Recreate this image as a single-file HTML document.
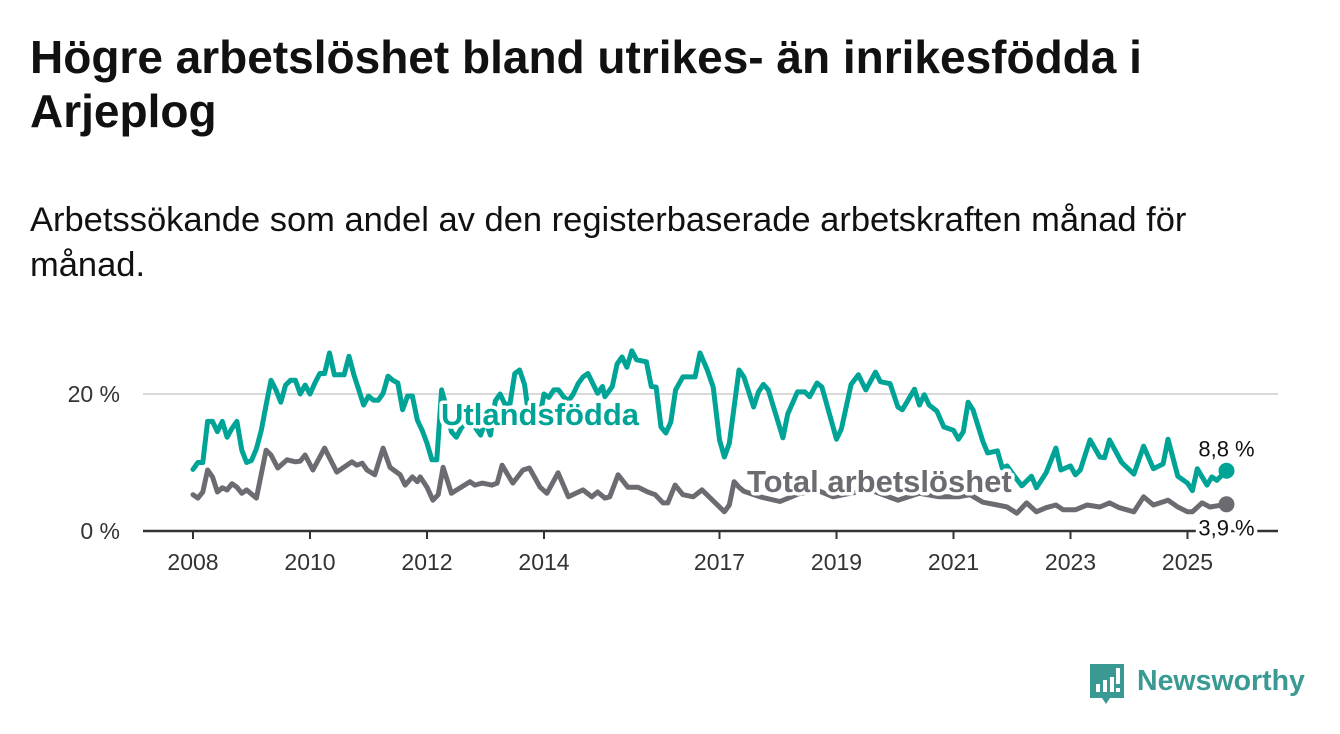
<!DOCTYPE html>
<html><head><meta charset="utf-8">
<style>
html,body{margin:0;padding:0;background:#fff;}
body{width:1340px;height:734px;overflow:hidden;position:relative;font-family:"Liberation Sans",sans-serif;color:#111;}
#title{position:absolute;left:30px;top:30px;font-size:46px;font-weight:bold;line-height:54px;margin:0;width:1220px;}
#subtitle{position:absolute;left:30px;top:198px;font-size:34.5px;line-height:45px;width:1240px;margin:0;}
svg{position:absolute;left:0;top:0;}
</style></head>
<body>
<h1 id="title">Högre arbetslöshet bland utrikes- än inrikesfödda i Arjeplog</h1>
<p id="subtitle">Arbetssökande som andel av den registerbaserade arbetskraften månad för månad.</p>
<svg id="chart" width="1340" height="734"></svg>
<script>
// Months since Jan 2008; values in percent
const tealMonthly = [9,10,10,16,16,14.5,16,13.7,15,16,11.8,10,
10.3,12,14.7,18.4,22,20.6,18.8,21.3,22,22,20,21.3,
20,21.6,23,23,26,22.8,22.8,22.8,25.5,22.8,20.6,18.4,
19.7,19.1,19.1,20.1,22.6,22,21.6,17.7,19.7,19.7,16.2,14.7,
12.8,10.4,10.4,20.6,18,14.5,13.7,15,16,18,15,14,
16,14,19,20,18.5,18.5,23,23.5,21.4,16.2,16.5,16.2,
20,19.5,20.6,20.6,19.6,19,20,21.5,22.5];
const tealLaterMonths = [81,83,84,84.5,86,87,88,89,90,91,93,94,95,96,97,98,99,100.5,103,104,105.5,106.7,108,109,110,112,113,115,116,117,118,121,122,124,125.5,126.5,128,129,132,133,135,136.5,138,140,141,143,144.6,145.5,148,149,150,151,152.6,154,156,157,158,159,160,162,163,165,166,167,168.5,170,172,173,175,177,178,180,181,182,184,186,187,188,190.5,193,195,197,199,200,202,204,205,206,206.5,208,209,210,212];
const tealLaterValues = [23,20.1,21.1,19.6,21.1,24.4,25.4,23.9,26.3,25,24.7,21.1,21,15.2,14.3,15.9,20.6,22.5,22.5,26,23.5,21,13.3,10.8,12.8,23.5,22.5,18.1,20.3,21.4,20.6,13.6,17.1,20.3,20.3,19.6,21.6,21,13.4,14.9,21.4,22.8,20.6,23.2,21.8,21.5,18.1,17.7,20.7,18.4,19.9,18.4,17.5,15.2,14.7,13.4,14.5,18.8,17.7,13.1,11.4,11.7,9.2,9.5,8,6.6,8,6.3,8.5,12.1,8.9,9.5,8.2,8.9,13.3,10.8,10.7,13.3,10,8.3,12.4,9.1,9.8,13.4,8,7,5.9,9.1,8.5,6.7,7.9,7.4,8.8];
const grayMonths = [0,1,2,3,4,5,6,7,8,9,10,11,13,15,16,17.4,19.3,21,22,23,24.6,27,29.5,32.6,33.6,34.7,35.7,37.3,39,40.4,42.5,43.5,45,46,46.6,48,49.2,50.3,51.3,53,56.8,57.8,59.3,61.3,62.4,63.4,65.6,67.7,69,71.2,72.6,74.9,77,80,81.8,83,84.5,85.5,87.2,89.2,91.3,93.3,94.8,96.4,97.4,98.9,100.5,102.6,104.4,107,109,110,111,112,113,116.3,120.4,124.5,128.6,131.3,134.8,138.9,144.6,149,153,157,159.4,162,165,167,169,171,173,175,177,178.5,181,183.4,186,188,190,193,195,197,200,202,204,205,207,208.6,212];
const grayValues = [5.3,4.8,5.7,8.9,7.9,5.7,6.3,6.0,6.9,6.4,5.5,6.0,4.8,11.8,11.1,9.2,10.4,10.1,10.2,11.1,8.9,12.1,8.6,10.1,9.6,9.9,8.9,8.2,12.1,9.3,8.2,6.7,7.9,7.2,7.9,6.4,4.5,5.3,9.3,5.5,7.2,6.7,7.0,6.7,7.0,9.6,7.0,8.9,9.2,6.4,5.5,8.5,5.0,6.0,5.0,5.7,4.8,5.0,8.2,6.4,6.4,5.7,5.3,4.1,4.1,6.7,5.3,5.0,6.0,4.2,2.8,3.8,7.2,6.4,5.8,5,4.3,5.5,5.8,5,5.5,6,4.5,5.5,5,5,5.3,4.2,3.8,3.5,2.6,4.1,2.8,3.4,3.8,3.1,3.1,3.8,3.5,4.1,3.4,2.8,5.0,3.8,4.5,3.5,2.8,2.8,4.1,3.5,3.9];
const yTicks = [0,20];
const yTickLabels = ["0 %","20 %"];
const xTickYears = [2008,2010,2012,2014,2017,2019,2021,2023,2025];

const NS="http://www.w3.org/2000/svg";
const svg=document.getElementById('chart');
const X=m=>193+m*58.5/12;
const Xy=yr=>X((yr-2008)*12);
const Y=v=>531-v*6.85;
function el(tag,attrs,parent){const e=document.createElementNS(NS,tag);for(const k in attrs)e.setAttribute(k,attrs[k]);(parent||svg).appendChild(e);return e;}

yTicks.forEach((t,i)=>{
  if(t!==0){const g=el('line',{x1:143,x2:1278,y1:Y(t),y2:Y(t),stroke:'#d9d9d9','stroke-width':2});
  
  }
  const tx=el('text',{x:120,y:Y(t)+8,'text-anchor':'end','font-size':23,fill:'#333','font-family':'Liberation Sans, sans-serif'});
  tx.textContent=yTickLabels[i];
  
  
});
xTickYears.forEach(yr=>{
  const tk=el('line',{x1:Xy(yr),x2:Xy(yr),y1:531,y2:539,stroke:'#333','stroke-width':2});
  
  
  const tx=el('text',{x:Xy(yr),y:570,'text-anchor':'middle','font-size':23,fill:'#333','font-family':'Liberation Sans, sans-serif'});
  tx.textContent=yr;
  
  
});

function line(months,values,color,name){
  const d=months.map((m,i)=>(i?'L':'M')+X(m).toFixed(1)+','+Y(values[i]).toFixed(1)).join('');
  const p=el('path',{d:d,fill:'none',stroke:color,'stroke-width':5,'stroke-linejoin':'round','stroke-linecap':'round'});
  
  
}
const tealMonths=tealMonthly.map((v,i)=>i).concat(tealLaterMonths);
const tealValues=tealMonthly.concat(tealLaterValues);
line(grayMonths,grayValues,'#6d6b72','total-line');
line(tealMonths,tealValues,'#00a497','foreign-born-line');

const ax=el('line',{x1:143,x2:1278,y1:531,y2:531,stroke:'#333','stroke-width':2.5});



function label(x,y,txt,color,size,weight,anchor,name){
  const t=el('text',{x:x,y:y,fill:color,'font-size':size,'font-weight':weight,'text-anchor':anchor,stroke:'#fff','stroke-width':7,'paint-order':'stroke','stroke-linejoin':'round','font-family':'Liberation Sans, sans-serif'});
  t.textContent=txt;
  
  
}
label(441,425,'Utlandsfödda','#00a497',31,'bold','start','foreign-born-label');
label(747,492,'Total arbetslöshet','#6d6b72',31,'bold','start','total-label');

const lastT=tealValues.length-1, lastG=grayValues.length-1;
const d1=el('circle',{cx:X(tealMonths[lastT]),cy:Y(tealValues[lastT]),r:8,fill:'#00a497'});


const d2=el('circle',{cx:X(grayMonths[lastG]),cy:Y(grayValues[lastG]),r:8,fill:'#6d6b72'});


label(X(tealMonths[lastT]),Y(tealValues[lastT])-14,String(tealValues[lastT]).replace('.',',')+' %','#111',22,'normal','middle','foreign-born-end-value');
label(X(grayMonths[lastG]),Y(grayValues[lastG])+31,grayValues[lastG].toFixed(1).replace('.',',')+' %','#111',22,'normal','middle','total-end-value');

const g=el('g',{});


el('path',{d:'M1090,664 h34 v34 h-14 l-4,6 l-4,-6 h-12 z',fill:'#3a9a93'},g);
el('rect',{x:1096,y:684,width:4,height:8,fill:'#fff'},g);
el('rect',{x:1103,y:680,width:4,height:12,fill:'#fff'},g);
el('rect',{x:1110,y:677,width:4,height:15,fill:'#fff'},g);
el('rect',{x:1116,y:668,width:4,height:16,fill:'#fff'},g);
el('rect',{x:1116,y:688,width:4,height:4,fill:'#fff'},g);
const lt=el('text',{x:1137,y:690,fill:'#3a9a93','font-size':28.5,'font-weight':'bold','font-family':'Liberation Sans, sans-serif'},g);
lt.textContent='Newsworthy';


</script>
</body></html>
